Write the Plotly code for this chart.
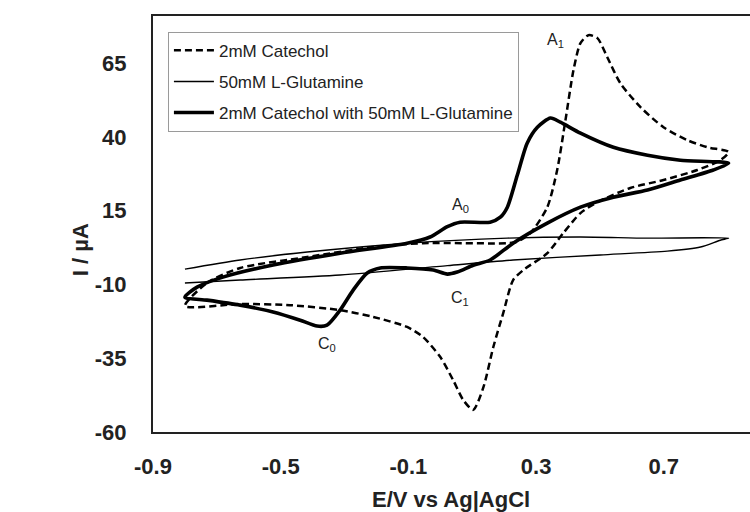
import plotly.graph_objects as go

# ---- data (E in V vs Ag|AgCl, I in µA) ----
cat_E = [-0.800, -0.731, -0.627, -0.417, -0.210, -0.054, 0.210, 0.240, 0.282, 0.335, 0.366, 0.392,
         0.417, 0.439, 0.464, 0.492, 0.523, 0.564, 0.627, 0.699, 0.774, 0.837, 0.903,
         0.877, 0.805, 0.699, 0.595, 0.492, 0.439, 0.385, 0.335, 0.260, 0.228, 0.197, 0.166,
         0.135, 0.103, 0.072, 0.040, 0.000, -0.054, -0.104, -0.210, -0.314, -0.471, -0.627, -0.800]
cat_I = [-17.3, -9.5, -4.4, -0.7, 2.7, 4.0, 4.0, 4.5, 7.4, 16.2, 28.8, 45.7,
         62.6, 71.8, 74.5, 73.5, 67.0, 58.2, 50.1, 43.3, 38.9, 36.5, 34.9,
         32.1, 28.8, 25.4, 22.7, 17.9, 14.2, 7.4, 0.6, -5.1, -8.5, -19.7, -31.2,
         -44.8, -52.5, -49.2, -42.4, -34.6, -27.8, -24.4, -21.0, -18.7, -17.0, -16.6, -17.3]

glu_E = [-0.800, -0.627, -0.417, -0.104, 0.210, 0.439, 0.649, 0.903,
         0.877, 0.815, 0.711, 0.501, 0.228, 0.022, -0.314, -0.627, -0.800]
glu_I = [-4.8, -1.7, 1.0, 4.0, 5.7, 6.1, 5.7, 5.7,
         5.0, 2.7, 1.3, 0.0, -1.7, -3.6, -6.8, -8.5, -9.5]

mix_E = [-0.800, -0.762, -0.681, -0.524, -0.314, -0.104, -0.032, 0.022, 0.062, 0.156, 0.188,
         0.210, 0.241, 0.272, 0.304, 0.345, 0.376, 0.439, 0.542, 0.649, 0.752, 0.903,
         0.855, 0.752, 0.649, 0.542, 0.439, 0.335, 0.228, 0.156, 0.103, 0.053, 0.022,
         -0.022, -0.104, -0.188, -0.229, -0.273, -0.314, -0.355, -0.386, -0.439, -0.524,
         -0.627, -0.731, -0.800]
mix_I = [-14.3, -10.9, -7.5, -3.4, 0.6, 4.0, 6.1, 9.6, 11.1, 11.1, 12.8,
         16.2, 27.0, 37.9, 43.3, 46.4, 45.0, 41.3, 36.5, 33.8, 32.1, 31.1,
         28.8, 25.4, 22.0, 19.6, 16.2, 10.8, 4.0, -1.7, -3.5, -5.8, -6.5,
         -5.1, -4.4, -4.4, -6.1, -11.9, -18.7, -23.8, -24.1, -22.1, -19.3,
         -17.0, -15.3, -14.3]

series_names = ["2mM Catechol", "50mM L-Glutamine", "2mM Catechol with 50mM L-Glutamine"]

x_ticks = [-0.9, -0.5, -0.1, 0.3, 0.7]
x_ticktext = ["-0.9", "-0.5", "-0.1", "0.3", "0.7"]
y_ticks = [-60, -35, -10, 15, 40, 65]
y_ticktext = ["-60", "-35", "-10", "15", "40", "65"]

peak_labels = ["A<sub>1</sub>", "A<sub>0</sub>", "C<sub>1</sub>", "C<sub>0</sub>"]
peak_E = [0.36, 0.062, 0.062, -0.355]
peak_I = [72.8, 16.9, -14.6, -30.5]

FONT = "Liberation Sans, Arial, sans-serif"

fig = go.Figure()
fig.add_trace(go.Scatter(x=cat_E, y=cat_I, mode="lines", name=series_names[0], legendgroup="a",
                         line=dict(color="black", width=2.5, dash="7px,4px", shape="spline", smoothing=0.7)))
fig.add_trace(go.Scatter(x=glu_E, y=glu_I, mode="lines", name=series_names[1], legendgroup="b",
                         line=dict(color="black", width=1.4, shape="spline", smoothing=0.7)))
fig.add_trace(go.Scatter(x=mix_E, y=mix_I, mode="lines", name=series_names[2], legendgroup="c",
                         line=dict(color="black", width=3.6, shape="spline", smoothing=0.7)))

for t, xe, yi in zip(peak_labels, peak_E, peak_I):
    fig.add_annotation(x=xe, y=yi, text=t, showarrow=False,
                       font=dict(family=FONT, size=16, color="#222"))

fig.add_annotation(xref="paper", yref="paper", x=0.499, y=-0.163, text="<b>E/V vs Ag|AgCl</b>",
                   showarrow=False, font=dict(family=FONT, size=22, color="#222"),
                   xanchor="center", yanchor="middle")
fig.add_annotation(xref="paper", yref="paper", x=-0.122, y=0.4375, text="<b>I / µA</b>",
                   showarrow=False, textangle=-90, font=dict(family=FONT, size=22, color="#222"),
                   xanchor="center", yanchor="middle")

fig.update_layout(
    width=750, height=512,
    margin=dict(l=153, r=0, t=16, b=80),
    paper_bgcolor="white", plot_bgcolor="white",
    font=dict(family=FONT, color="#222"),
    showlegend=True,
    legend=dict(x=0.025, y=0.962, xanchor="left", yanchor="top",
                bgcolor="white", bordercolor="#9a9a9a", borderwidth=1,
                font=dict(family=FONT, size=17, color="#222"),
                traceorder="grouped", tracegroupgap=6, itemwidth=40),
)
fig.update_xaxes(range=[-0.9, 0.97], tickvals=x_ticks, ticktext=x_ticktext,
                 showgrid=False, zeroline=False, showline=True, linecolor="#222", linewidth=2,
                 mirror=True, ticks="", ticklabelstandoff=14,
                 tickfont=dict(family=FONT, size=22, color="#222", weight="bold"))
fig.update_yaxes(range=[-60, 81], tickvals=y_ticks, ticktext=y_ticktext, showgrid=False, zeroline=False,
                 showline=True, linecolor="#222", linewidth=2, ticks="", ticklabelstandoff=20,
                 tickfont=dict(family=FONT, size=22, color="#222", weight="bold"))

fig.write_html("out.html")
